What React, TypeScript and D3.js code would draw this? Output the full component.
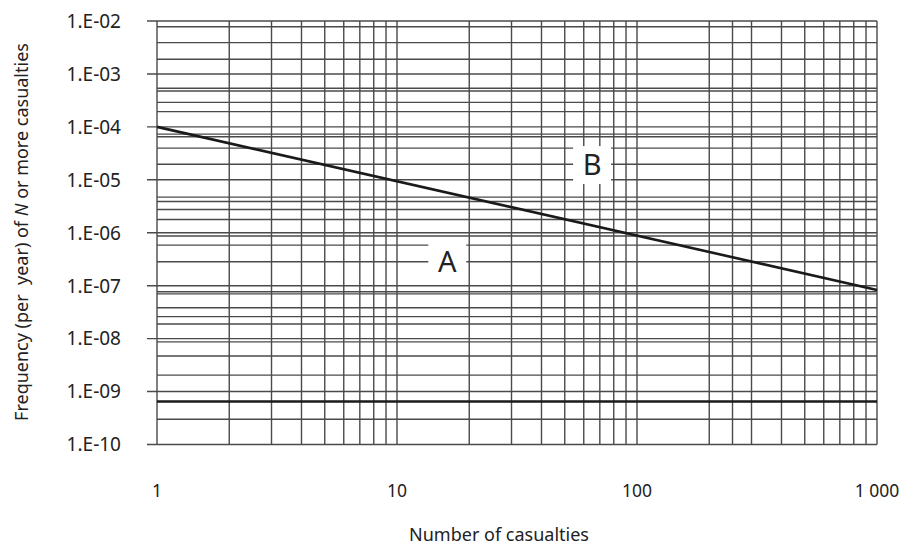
import React, { useEffect, useRef } from "react";
import * as d3 from "d3";

// decade ticks
const xTicks = [1, 10, 100, 1000];
const xTickLabels = ["1", "10", "100", "1 000"];
const yTicks = [1e-2, 1e-3, 1e-4, 1e-5, 1e-6, 1e-7, 1e-8, 1e-9, 1e-10];
const yTickLabels = ["1.E-02", "1.E-03", "1.E-04", "1.E-05", "1.E-06", "1.E-07", "1.E-08", "1.E-09", "1.E-10"];

// extra vertical grid lines
const xMinorGrid = [
  2, 3, 4, 5, 6, 7, 8, 9,
  20, 30, 40, 50, 60, 70, 80, 90,
  200, 250, 300, 400, 500, 600, 700, 800, 900,
];

// horizontal grid lines, irregular in the original
const yMinorGrid = [
  7.8e-3, 3.9e-3, 1.9e-3,
  5.35e-4, 4.77e-4, 2.9e-4, 1.94e-4,
  7.3e-5, 6.5e-5, 3.96e-5, 1.97e-5,
  4.7e-6, 3.9e-6, 2.75e-6, 1.78e-6,
  8.7e-7, 5.85e-7, 2.83e-7,
  7.7e-8, 7.0e-8, 3.84e-8, 2.6e-8, 1.89e-8,
  8.7e-9, 4.7e-9, 2.04e-9,
  3.0e-10,
];

// criterion line A/B boundary
const lineN = [1, 1000];
const lineF = [1e-4, 8.3e-8];

// lower limit line
const lowerLimit = 6.5e-10;

const regionLabels = ["A", "B"];
const regionN = [16.2, 65];
const regionF = [2.8e-7, 1.9e-5];

const W = 906;
const H = 545;

export default function App() {
  const ref = useRef<SVGSVGElement>(null);

  useEffect(() => {
    const svg = d3.select(ref.current);
    svg.selectAll("*").remove();

    const x = d3.scaleLog().domain([1, 1000]).range([157, 877]);
    const y = d3.scaleLog().domain([1e-10, 1e-2]).range([444.5, 21]);
    const font = "'Noto Sans', 'Open Sans', sans-serif";
    const gridColor = "#4a4a4a";

    const g = svg.append("g");

    // vertical grid
    g.selectAll("line.vx")
      .data([...xTicks, ...xMinorGrid])
      .join("line")
      .attr("x1", (d) => x(d))
      .attr("x2", (d) => x(d))
      .attr("y1", y(1e-2))
      .attr("y2", y(1e-10))
      .attr("stroke", gridColor)
      .attr("stroke-width", 1.4);

    // horizontal minor grid
    g.selectAll("line.hy")
      .data(yMinorGrid)
      .join("line")
      .attr("x1", x(1))
      .attr("x2", x(1000))
      .attr("y1", (d) => y(d))
      .attr("y2", (d) => y(d))
      .attr("stroke", gridColor)
      .attr("stroke-width", 1.4);

    // decade lines, sticking out left as ticks
    g.selectAll("line.dec")
      .data(yTicks)
      .join("line")
      .attr("x1", x(1) - 10)
      .attr("x2", x(1000))
      .attr("y1", (d) => y(d))
      .attr("y2", (d) => y(d))
      .attr("stroke", gridColor)
      .attr("stroke-width", 1.4);

    // lower limit
    g.append("line")
      .attr("x1", x(1))
      .attr("x2", x(1000))
      .attr("y1", y(lowerLimit))
      .attr("y2", y(lowerLimit))
      .attr("stroke", "#1a1a1a")
      .attr("stroke-width", 2.6);

    // criterion line
    const pts = lineN.map((n, i) => [n, lineF[i]] as [number, number]);
    g.append("path")
      .datum(pts)
      .attr("d", d3.line<[number, number]>().x((d) => x(d[0])).y((d) => y(d[1])))
      .attr("fill", "none")
      .attr("stroke", "#1a1a1a")
      .attr("stroke-width", 2.6);

    // region labels with white boxes
    regionLabels.forEach((lab, i) => {
      const cx = x(regionN[i]);
      const cy = y(regionF[i]);
      g.append("rect")
        .attr("x", cx - 19)
        .attr("y", cy - 19)
        .attr("width", 38)
        .attr("height", 38)
        .attr("fill", "white");
      g.append("text")
        .attr("x", cx)
        .attr("y", cy)
        .attr("dy", "0.36em")
        .attr("text-anchor", "middle")
        .style("font-family", font)
        .style("font-size", "29px")
        .style("fill", "#222")
        .text(lab);
    });

    // y tick labels
    g.selectAll("text.yl")
      .data(yTicks)
      .join("text")
      .attr("x", 121)
      .attr("y", (d) => y(d))
      .attr("dy", "0.36em")
      .attr("text-anchor", "end")
      .style("font-family", font)
      .style("font-size", "19px")
      .style("fill", "#222")
      .text((d, i) => yTickLabels[i]);

    // x tick labels
    g.selectAll("text.xl")
      .data(xTicks)
      .join("text")
      .attr("x", (d) => x(d))
      .attr("y", 497)
      .attr("text-anchor", "middle")
      .style("font-family", font)
      .style("font-size", "17.5px")
      .style("fill", "#222")
      .text((d, i) => xTickLabels[i]);

    // axis titles
    g.append("text")
      .attr("x", 499)
      .attr("y", 541)
      .attr("text-anchor", "middle")
      .style("font-family", font)
      .style("font-size", "18px")
      .style("fill", "#222")
      .text("Number of casualties");

    const yt = g.append("text")
      .attr("transform", `translate(28,232) rotate(-90)`)
      .attr("text-anchor", "middle")
      .style("font-family", font)
      .style("font-size", "18px")
      .style("white-space", "pre")
      .style("fill", "#222");
    yt.append("tspan").text("Frequency (per  year) of ");
    yt.append("tspan").style("font-style", "italic").text("N");
    yt.append("tspan").text(" or more casualties");
  }, []);

  return (
    <svg
      ref={ref}
      width={W}
      height={H}
      style={{ position: "absolute", left: 0, top: 0, background: "white" }}
    />
  );
}
